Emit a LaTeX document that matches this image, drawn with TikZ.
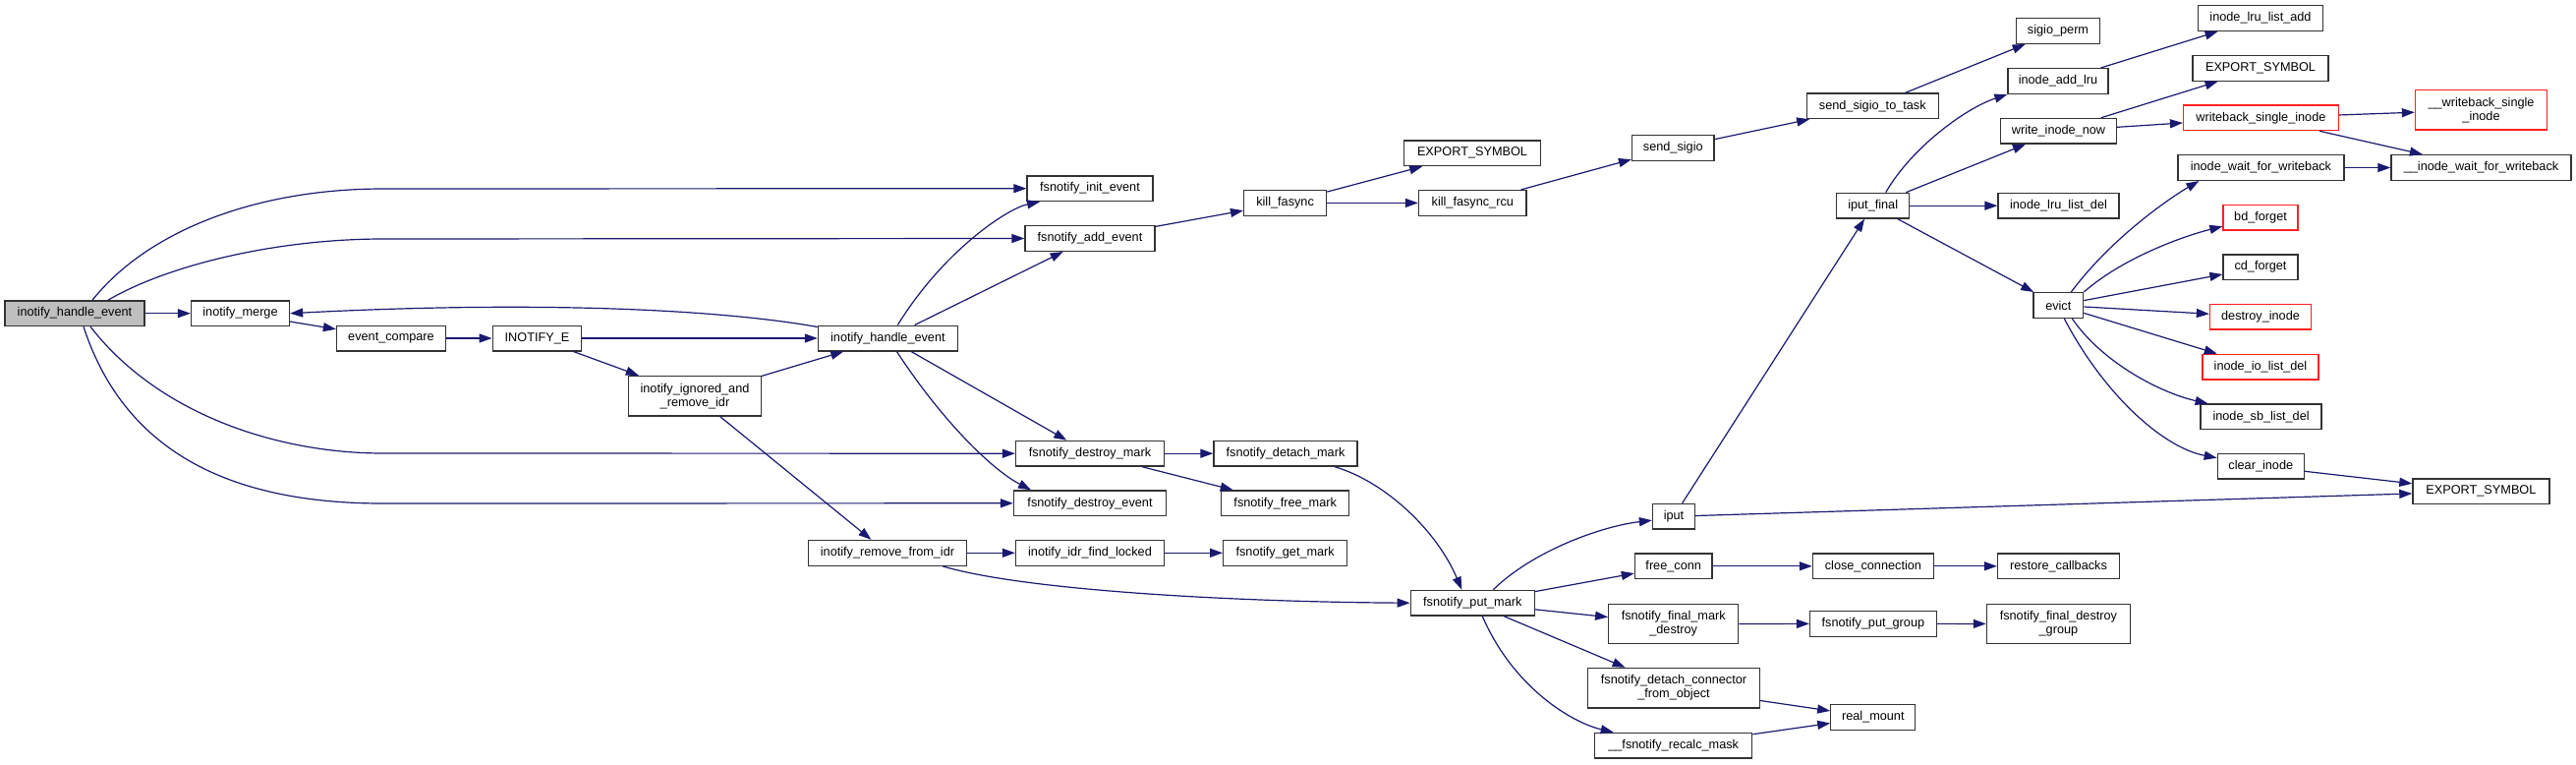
\documentclass[tikz,border=0pt]{standalone}
\usepackage{fontspec}
\setmainfont{Liberation Sans}
\usepackage{tikz}
\usetikzlibrary{arrows.meta}
\definecolor{dxEdge}{HTML}{191970}
\definecolor{dxRoot}{HTML}{BFBFBF}
\definecolor{dxTrunc}{HTML}{FF2020}

\begin{document}
\begin{tikzpicture}[x=1pt, y=-1pt,
  fn/.style={draw=black!80, line width=1.3pt, fill=white, inner sep=0pt,
    minimum height=25.7pt, align=center, font=\fontsize{12.7}{14}\selectfont},
  fntwo/.style={fn, minimum height=40.5pt},
  rootfn/.style={fill=dxRoot},
  truncfn/.style={draw=dxTrunc},
  call/.style={draw=dxEdge, line width=1.2pt, -{Triangle[length=13pt,width=9pt]}},
]
  \useasboundingbox (0,0) rectangle (2621,777);

  % inotify side
  \node[fn, rootfn, minimum width=142pt] (hL) at (76,318.7) {inotify\_handle\_event};
  \node[fn, minimum width=100pt] (merge) at (244.5,318.7) {inotify\_merge};
  \node[fn, minimum width=111pt] (evcmp) at (398,344) {event\_compare};
  \node[fn, minimum width=90.5pt] (inotE) at (546.5,344) {INOTIFY\_E};
  \node[fntwo, minimum width=134.5pt] (ignored) at (707,402.7) {inotify\_ignored\_and\\\_remove\_idr};
  \node[fn, minimum width=142pt] (hR) at (903.4,344) {inotify\_handle\_event};
  \node[fn, minimum width=161pt] (rmidr) at (903,562.3) {inotify\_remove\_from\_idr};

  % fsnotify
  \node[fn, minimum width=128pt] (initev) at (1109,191.7) {fsnotify\_init\_event};
  \node[fn, minimum width=132pt] (addev) at (1109,242.5) {fsnotify\_add\_event};
  \node[fn, minimum width=151pt] (dmark) at (1109,461.2) {fsnotify\_destroy\_mark};
  \node[fn, minimum width=155pt] (devent) at (1109,511.8) {fsnotify\_destroy\_event};
  \node[fn, minimum width=151pt] (idrfind) at (1109,562.3) {inotify\_idr\_find\_locked};
  \node[fn, minimum width=84pt] (killf) at (1307.6,206.4) {kill\_fasync};
  \node[fn, minimum width=146pt] (detach) at (1308,461.2) {fsnotify\_detach\_mark};
  \node[fn, minimum width=130pt] (freemark) at (1307.7,511.8) {fsnotify\_free\_mark};
  \node[fn, minimum width=126pt] (getmark) at (1307.7,562.3) {fsnotify\_get\_mark};
  \node[fn, minimum width=138.5pt] (expA) at (1498,155.8) {EXPORT\_SYMBOL};
  \node[fn, minimum width=109.5pt] (kfrcu) at (1498.3,206.4) {kill\_fasync\_rcu};
  \node[fn, minimum width=126pt] (putmark) at (1498.3,613.2) {fsnotify\_put\_mark};

  \node[fn, minimum width=83.4pt] (sendsigio) at (1702.3,150.5) {send\_sigio};
  \node[fn, minimum width=43pt] (iput) at (1703,525.2) {iput};
  \node[fn, minimum width=78.5pt] (freeconn) at (1702.7,575.8) {free\_conn};
  \node[fntwo, minimum width=132pt] (finalmark) at (1702.7,634.5) {fsnotify\_final\_mark\\\_destroy};
  \node[fntwo, minimum width=174.7pt] (detconn) at (1703,699.7) {fsnotify\_detach\_connector\\\_from\_object};
  \node[fn, minimum width=160pt] (recalc) at (1702.7,758.2) {\_\_fsnotify\_recalc\_mask};

  \node[fn, minimum width=134pt] (sstask) at (1905.3,107.8) {send\_sigio\_to\_task};
  \node[fn, minimum width=74pt] (iputfinal) at (1905.7,209.2) {iput\_final};
  \node[fn, minimum width=123pt] (closeconn) at (1905.9,575.8) {close\_connection};
  \node[fn, minimum width=128.6pt] (putgroup) at (1905.9,634.3) {fsnotify\_put\_group};
  \node[fn, minimum width=86pt] (realmount) at (1905.8,729.3) {real\_mount};

  % inode side
  \node[fn, minimum width=85pt] (sigioperm) at (2094,31.5) {sigio\_perm};
  \node[fn, minimum width=102pt] (addlru) at (2094,82.5) {inode\_add\_lru};
  \node[fn, minimum width=118pt] (winow) at (2094.5,133.2) {write\_inode\_now};
  \node[fn, minimum width=123pt] (lrudel) at (2094.5,209.2) {inode\_lru\_list\_del};
  \node[fn, minimum width=50.7pt] (evict) at (2094.3,310.5) {evict};
  \node[fn, minimum width=124pt] (restorecb) at (2094.5,575.8) {restore\_callbacks};
  \node[fntwo, minimum width=146pt] (finaldestroy) at (2094.4,634.5) {fsnotify\_final\_destroy\\\_group};

  \node[fn, minimum width=126.4pt] (lruadd) at (2300,18.5) {inode\_lru\_list\_add};
  \node[fn, minimum width=138pt] (expB) at (2300,69.3) {EXPORT\_SYMBOL};
  \node[fn, truncfn, minimum width=157.6pt] (wbsingle) at (2300.4,119.8) {writeback\_single\_inode};
  \node[fn, minimum width=169pt] (iwait) at (2300.4,170.5) {inode\_wait\_for\_writeback};
  \node[fn, truncfn, minimum width=76pt] (bdforget) at (2300,221.2) {bd\_forget};
  \node[fn, minimum width=76pt] (cdforget) at (2300,271.7) {cd\_forget};
  \node[fn, truncfn, minimum width=103pt] (destroyinode) at (2300,322.2) {destroy\_inode};
  \node[fn, truncfn, minimum width=118pt] (iolistdel) at (2300,373.2) {inode\_io\_list\_del};
  \node[fn, minimum width=123pt] (sblistdel) at (2300.6,423.9) {inode\_sb\_list\_del};
  \node[fn, minimum width=88pt] (clearinode) at (2300.3,474.2) {clear\_inode};

  \node[fntwo, truncfn, minimum width=134pt] (wbsingletwo) at (2524.5,111.8) {\_\_writeback\_single\\\_inode};
  \node[fn, minimum width=183pt] (iwaittwo) at (2524.5,170.5) {\_\_inode\_wait\_for\_writeback};
  \node[fn, minimum width=139pt] (expC) at (2524.4,499.8) {EXPORT\_SYMBOL};

  % calls
  \draw[call] (hL) -- (merge);
  \draw[call] ([xshift=18pt]hL.north) .. controls (150,235) and (260,192) .. (390,192) -- (initev.west);
  \draw[call] ([xshift=34pt]hL.north) .. controls (170,270) and (280,243) .. (390,243) -- (addev.west);
  \draw[call] ([xshift=16pt]hL.south) .. controls (160,420) and (280,461) .. (390,461) -- (dmark.west);
  \draw[call] ([xshift=9pt]hL.south) .. controls (130,470) and (250,512) .. (390,512) -- (devent.west);
  \draw[call] (merge) -- (evcmp);
  \draw[call] (evcmp) -- (inotE);
  \draw[call] (inotE) -- (hR);
  \draw[call] (inotE) -- (ignored);
  \draw[call] (ignored) -- (hR);
  \draw[call] (ignored) -- (rmidr);
  \draw[call] ([yshift=-2pt]hR.north west) .. controls (740,316) and (560,305) .. (merge.east);
  \draw[call] ([xshift=10pt]hR.north) .. controls (960,255) and (1025,212) .. ([xshift=-51pt]initev.south);
  \draw[call] (hR) -- (addev);
  \draw[call] (hR) -- (dmark);
  \draw[call] ([xshift=9pt]hR.south) .. controls (960,430) and (1010,478) .. ([xshift=-60pt]devent.north);
  \draw[call] (rmidr) -- (idrfind);
  \draw[call] (idrfind) -- (getmark);
  \draw[call] ([xshift=56pt]rmidr.south) .. controls (1040,600) and (1250,612) .. (putmark.west);

  \draw[call] (addev) -- (killf);
  \draw[call] (killf) -- (expA);
  \draw[call] (killf) -- (kfrcu);
  \draw[call] (kfrcu) -- (sendsigio);
  \draw[call] (sendsigio) -- (sstask);
  \draw[call] (sstask) -- (sigioperm);
  \draw[call] (dmark) -- (detach);
  \draw[call] (dmark) -- (freemark);
  \draw[call] ([xshift=50pt]detach.south) .. controls (1410,490) and (1462,540) .. ([xshift=-11pt]putmark.north);

  \draw[call] ([xshift=21pt]putmark.north) .. controls (1560,560) and (1630,535) .. ([yshift=-4pt]iput.west);
  \draw[call] (putmark) -- (freeconn);
  \draw[call] (putmark) -- (finalmark);
  \draw[call] (putmark) -- (detconn);
  \draw[call] ([xshift=10pt]putmark.south) .. controls (1540,700) and (1600,735) .. ([xshift=-61pt]recalc.north);
  \draw[call] (iput) -- (iputfinal);
  \draw[call] (iput) -- (expC);
  \draw[call] (freeconn) -- (closeconn);
  \draw[call] (closeconn) -- (restorecb);
  \draw[call] (finalmark) -- (putgroup);
  \draw[call] (putgroup) -- (finaldestroy);
  \draw[call] (detconn) -- (realmount);
  \draw[call] (recalc) -- (realmount);

  \draw[call] ([xshift=13pt]iputfinal.north) .. controls (1945,150) and (2000,110) .. (addlru.south west);
  \draw[call] (iputfinal) -- (winow);
  \draw[call] (iputfinal) -- (lrudel);
  \draw[call] (iputfinal) -- (evict);
  \draw[call] (addlru) -- (lruadd);
  \draw[call] (winow) -- (expB);
  \draw[call] (winow) -- (wbsingle);
  \draw[call] (wbsingle) -- (wbsingletwo);
  \draw[call] (wbsingle) -- (iwaittwo);
  \draw[call] (iwait) -- (iwaittwo);

  \draw[call] ([xshift=13pt]evict.north) .. controls (2150,240) and (2210,200) .. ([xshift=-63pt]iwait.south);
  \draw[call] (evict.north east) .. controls (2160,262) and (2222,240) .. ([yshift=-9pt]bdforget.west);
  \draw[call] (evict) -- (cdforget);
  \draw[call] (evict) -- (destroyinode);
  \draw[call] (evict) -- (iolistdel);
  \draw[call] ([xshift=14pt]evict.south) .. controls (2140,370) and (2200,400) .. ([xshift=-54pt]sblistdel.north);
  \draw[call] ([xshift=6pt]evict.south) .. controls (2140,400) and (2200,455) .. ([yshift=-5pt]clearinode.north west);
  \draw[call] (clearinode) -- (expC);
\end{tikzpicture}
\end{document}
